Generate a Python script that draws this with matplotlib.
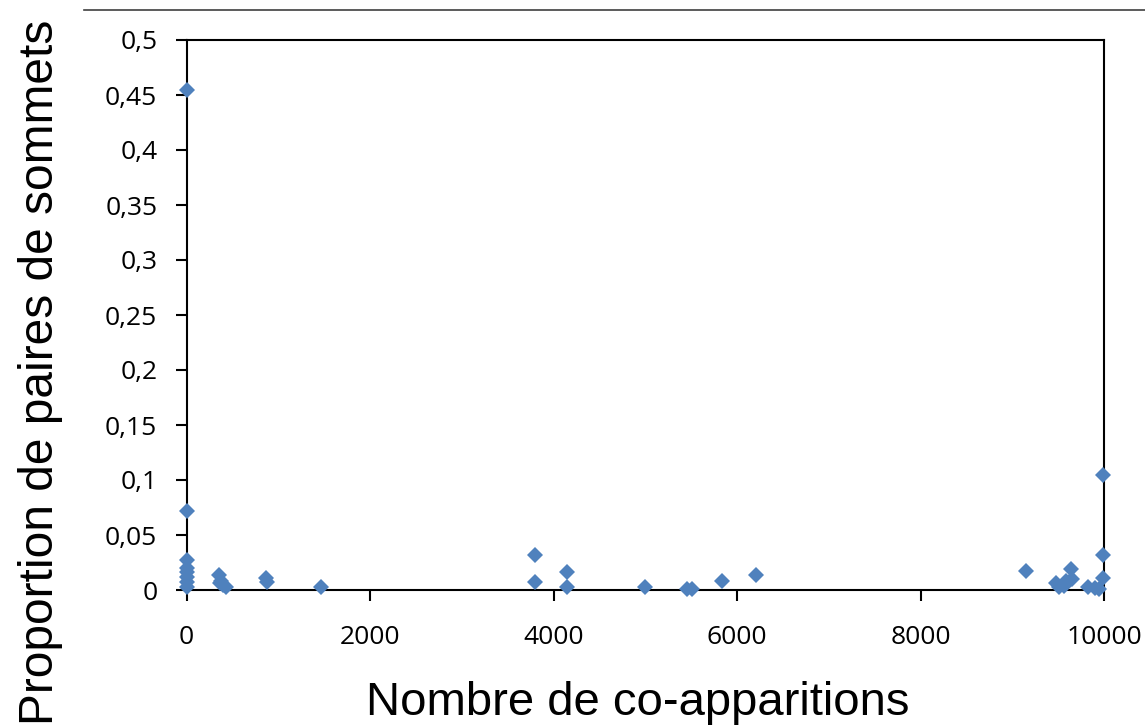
import matplotlib
matplotlib.use("Agg")
import matplotlib.pyplot as plt
from matplotlib.lines import Line2D
from matplotlib.ticker import FuncFormatter

# Data
co_apparitions = [10, 10, 10, 10, 10, 10, 10, 10,
                  350, 360, 380, 400, 430,
                  870, 875, 1470,
                  3800, 3800, 4150, 4150,
                  5000, 5450, 5510, 5840, 6210,
                  9150, 9480, 9510, 9560, 9590, 9640, 9650,
                  9830, 9900, 9950, 9990, 9990, 9990]
proportion = [0.455, 0.072, 0.027, 0.020, 0.016, 0.012, 0.007, 0.003,
              0.014, 0.006, 0.008, 0.005, 0.003,
              0.011, 0.007, 0.003,
              0.032, 0.007, 0.016, 0.003,
              0.003, 0.001, 0.001, 0.0085, 0.014,
              0.0176, 0.006, 0.003, 0.004, 0.008, 0.0188, 0.010,
              0.0025, 0.0015, 0.001, 0.105, 0.0315, 0.0106]
x_ticks = [0, 2000, 4000, 6000, 8000, 10000]
y_ticks = [0, 0.05, 0.1, 0.15, 0.2, 0.25, 0.3, 0.35, 0.4, 0.45, 0.5]

W, H = 1145, 725
fig = plt.figure(figsize=(W/100, H/100), dpi=100)
ax = fig.add_axes([186.5/W, 1 - 590/H, (1104 - 186.5)/W, 550/H])

ax.plot(co_apparitions, proportion, linestyle="none", marker="D",
        markersize=7.8, color="#4F81BD", markeredgewidth=0, clip_on=False, zorder=3)

ax.set_xlim(0, 10000)
ax.set_ylim(0, 0.5)
ax.set_xticks(x_ticks)
ax.set_yticks(y_ticks)

def fmt(v, pos):
    return ("%g" % v).replace(".", ",")
ax.yaxis.set_major_formatter(FuncFormatter(fmt))
ax.xaxis.set_major_formatter(FuncFormatter(lambda v, p: "%d" % v))

for sp in ax.spines.values():
    sp.set_linewidth(1.5)
    sp.set_color("black")

ax.tick_params(axis="both", direction="out", length=8, width=1.5, labelsize=19)
for lab in ax.get_xticklabels() + ax.get_yticklabels():
    lab.set_fontfamily("Open Sans")
ax.tick_params(axis="x", pad=17)
ax.tick_params(axis="y", pad=13)

fig.text(638/W, 1 - 715/H, "Nombre de co-apparitions", fontsize=34,
         family="Liberation Sans", ha="center", va="baseline",
         rotation_mode="anchor")
fig.text(53/W, 1 - 372/H, "Proportion de paires de sommets", fontsize=34.5,
         family="Liberation Sans", ha="center", va="baseline", rotation=90,
         rotation_mode="anchor")

fig.add_artist(Line2D([84/W, 1.0], [1 - 10/H, 1 - 10/H], color="#404040", linewidth=1.2))

fig.savefig("out.png", dpi=100)
